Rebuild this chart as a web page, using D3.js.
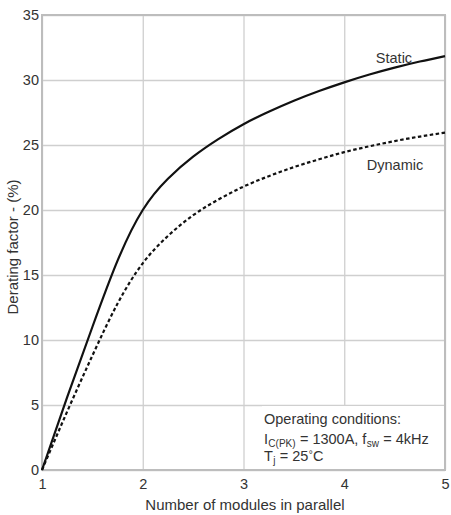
<!DOCTYPE html>
<html><head><meta charset="utf-8">
<script src="https://cdn.jsdelivr.net/npm/d3@7"></script>
<style>
body{margin:0;background:#fff;}
text{font-family:"Liberation Sans",Arial,sans-serif;fill:#333;white-space:pre;}
</style></head>
<body><svg id="c" width="451" height="515"></svg>
<script>
const modules = [1, 1.25, 1.5, 1.75, 2, 2.25, 2.5, 2.75, 3, 3.25, 3.5, 3.75, 4, 4.25, 4.5, 4.75, 5];
const staticVals = [0, 5.6, 11.0, 16.1, 20.0, 22.4, 24.1, 25.45, 26.6, 27.55, 28.4, 29.15, 29.82, 30.42, 30.95, 31.42, 31.84];
const dynamicVals = [0, 4.5, 8.8, 12.8, 15.9, 18.0, 19.6, 20.8, 21.8, 22.6, 23.3, 23.9, 24.45, 24.9, 25.3, 25.65, 25.95];
const xTicks = [1, 2, 3, 4, 5];
const yTicks = [0, 5, 10, 15, 20, 25, 30, 35];
const xTitle = "Number of modules in parallel";
const yTitle = "Derating factor - (%)";

const svg = d3.select("#c");
const L = 42, R = 445, T = 15, B = 470;
const x = d3.scaleLinear().domain([1, 5]).range([L, R]);
const y = d3.scaleLinear().domain([0, 35]).range([B, T]);

// gridlines
const gx = svg.append("g").attr("transform", `translate(0,${B})`)
  .call(d3.axisBottom(x).tickValues(xTicks).tickSizeInner(-(B - T)).tickSizeOuter(0).tickPadding(9).tickFormat(d3.format("d")));
const gy = svg.append("g").attr("transform", `translate(${L},0)`)
  .call(d3.axisLeft(y).tickValues(yTicks).tickSizeInner(-(R - L)).tickSizeOuter(0).tickPadding(3).tickFormat(d3.format("d")));
[gx, gy].forEach(g => {
  g.select(".domain").remove();
  g.selectAll(".tick line").attr("stroke", "#cfcfcf").attr("stroke-width", 1.3);
  g.selectAll(".tick text").attr("font-size", 14.5).attr("fill", "#333")
   .style("font-family", '"Liberation Sans",Arial,sans-serif');
});
// frame
svg.append("rect").attr("x", L).attr("y", T).attr("width", R - L).attr("height", B - T)
  .attr("fill", "none").attr("stroke", "#bdbdbd").attr("stroke-width", 2);

// annotation background
svg.append("rect").attr("x", 262).attr("y", y(5) + 1).attr("width", R - 263).attr("height", B - y(5) - 2)
  .attr("fill", "#fff");

const line = d3.line().x((d, i) => x(modules[i])).y(d => y(d)).curve(d3.curveNatural);
svg.append("path").attr("d", line(staticVals)).attr("fill", "none")
  .attr("stroke", "#111").attr("stroke-width", 2.2);
svg.append("path").attr("d", line(dynamicVals)).attr("fill", "none")
  .attr("stroke", "#111").attr("stroke-width", 2.2).attr("stroke-dasharray", "3.5,2.5");

svg.append("text").attr("x", 394).attr("y", 63).attr("text-anchor", "middle").attr("font-size", 14.5).text("Static");
svg.append("text").attr("x", 395).attr("y", 170).attr("text-anchor", "middle").attr("font-size", 14.5).text("Dynamic");

// annotation text (pieces placed side by side)
const fs = 14.5, sfs = 10;
svg.append("text").attr("x", 264).attr("y", 424).attr("font-size", fs).text("Operating conditions:");
function richLine(parts, x0, y0) {
  let cx = x0;
  parts.forEach(p => {
    const t = svg.append("text").attr("x", cx).attr("y", y0 + (p.dy || 0))
      .attr("font-size", p.small ? sfs : fs).text(p.t);
    cx += t.node().getComputedTextLength() + 0.3;
  });
}
richLine([{t: "I"}, {t: "C(PK)", small: true, dy: 2.5}, {t: " = 1300A, f"}, {t: "sw", small: true, dy: 2.5}, {t: " = 4kHz"}], 264, 444);
richLine([{t: "T"}, {t: "j", small: true, dy: 2.5}, {t: " = 25"}, {t: "°", small: true, dy: -3}, {t: "C"}], 264, 461);

svg.append("text").attr("x", 245).attr("y", 510).attr("text-anchor", "middle").attr("font-size", 15).text(xTitle);
svg.append("text").attr("transform", "translate(18,247) rotate(-90)").attr("text-anchor", "middle")
  .attr("font-size", 15).text(yTitle);
</script></body></html>
